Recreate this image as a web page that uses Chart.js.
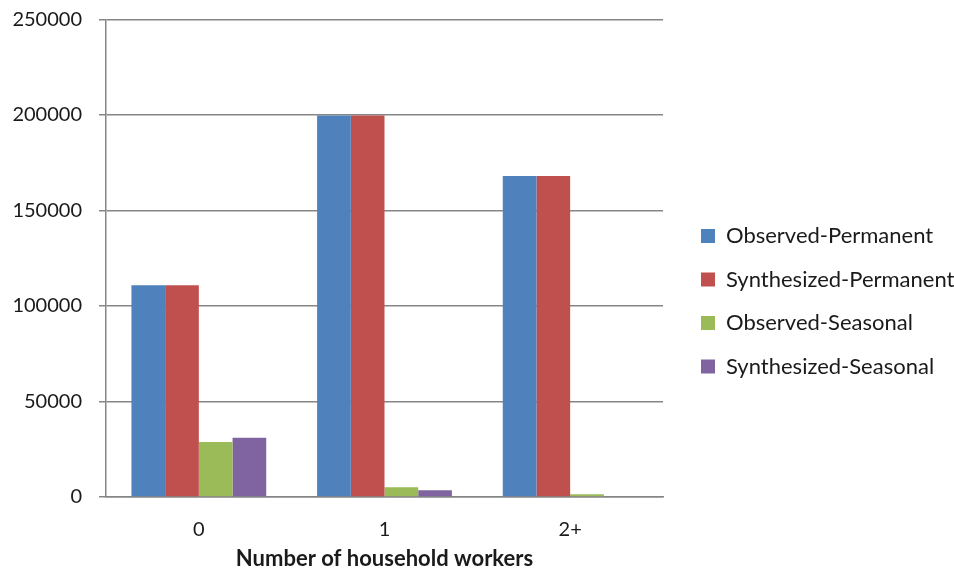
<!DOCTYPE html>
<html><head><meta charset="utf-8">
<script src="https://cdn.jsdelivr.net/npm/chart.js@4/dist/chart.umd.min.js"></script>
<style>html,body{margin:0;padding:0;background:#fff}#wrap{width:954px;height:574px}</style>
</head><body><div id="wrap"><canvas id="c" width="954" height="574"></canvas></div>
<script>
const categories = ['0', '1', '2+'];
const observedPermanent = [110800, 199700, 168100];
const synthesizedPermanent = [110800, 199700, 168100];
const observedSeasonal = [28800, 5100, 1500];
const synthesizedSeasonal = [31000, 3500, 400];
const yTicks = [0, 50000, 100000, 150000, 200000, 250000];
const xTitle = 'Number of household workers';

Chart.defaults.font.family = 'Lato, "Open Sans", sans-serif';
const gridGray = '#868686';
const textCol = '#1a1a1a';

// legend box: reserve space to the right of the plot, then nudge the legend right
const legendLayout = {
  id: 'legendLayout',
  beforeLayout(chart) {
    const lg = chart.legend;
    if (lg && !lg.__patched) {
      const fit = lg.fit.bind(lg);
      lg.fit = function () { fit(); this.width = 291; };
      lg.__patched = true;
    }
  },
  afterLayout(chart) {
    const lg = chart.legend;
    if (lg) { lg.left += 16.5; lg.right += 16.5; }
  }
};

new Chart(document.getElementById('c'), {
  type: 'bar',
  data: {
    labels: categories,
    datasets: [
      {label: 'Observed-Permanent', data: observedPermanent, backgroundColor: '#4F81BD'},
      {label: 'Synthesized-Permanent', data: synthesizedPermanent, backgroundColor: '#C0504D'},
      {label: 'Observed-Seasonal', data: observedSeasonal, backgroundColor: '#9BBB59'},
      {label: 'Synthesized-Seasonal', data: synthesizedSeasonal, backgroundColor: '#8064A2'}
    ]
  },
  plugins: [legendLayout],
  options: {
    responsive: false,
    animation: false,
    layout: {padding: {left: 0, right: 0, top: 19.5, bottom: 0}},
    datasets: {bar: {categoryPercentage: 0.726, barPercentage: 1, borderWidth: 0}},
    plugins: {
      tooltip: {enabled: false},
      legend: {
        position: 'right',
        align: 'center',
        title: {display: true, text: ' ', font: {size: 5}, padding: {top: 0, bottom: 3}},
        labels: {boxWidth: 14, boxHeight: 14, padding: 21.5, color: textCol, font: {size: 22}}
      }
    },
    scales: {
      x: {
        grid: {display: false, drawTicks: false},
        border: {display: true, color: gridGray, width: 1.5},
        ticks: {padding: 21, color: textCol, font: {size: 20}},
        title: {display: true, text: xTitle, color: textCol, font: {size: 22, weight: 'bold'}, padding: {top: 0, bottom: 2}},
        afterFit(s) { s.height = 77; }
      },
      y: {
        min: 0, max: 250000,
        afterBuildTicks(s) { s.ticks = yTicks.map(v => ({value: v})); },
        ticks: {padding: 17, color: textCol, font: {size: 20}, callback: v => String(v)},
        grid: {color: gridGray, lineWidth: 1.5, tickLength: 7, drawTicks: true},
        border: {display: true, color: gridGray, width: 1.5},
        afterFit(s) { s.width = 106; s.paddingTop = 0; }
      }
    }
  }
});
</script>
</body></html>
